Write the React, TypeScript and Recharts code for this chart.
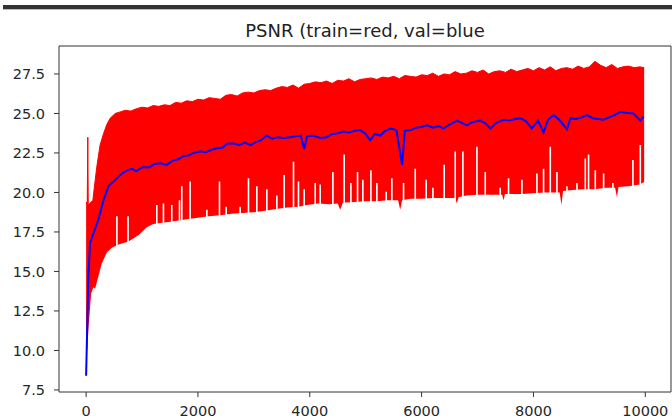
import { ComposedChart, Area, Line, XAxis, YAxis } from 'recharts';

// train PSNR, upper edge of the noisy red band [step, psnr]
const trainUpper = [
  [0, 19.4], [20, 19.3], [30, 23.5], [38, 19.2], [120, 19.5], [190, 21.6], [250, 23.0],
  [310, 23.7], [370, 24.3], [430, 24.7], [520, 25.0], [610, 25.1], [700, 25.2], [800, 25.15],
  [900, 25.3], [1000, 25.4], [1100, 25.35], [1200, 25.5], [1300, 25.45], [1400, 25.55],
  [1500, 25.5], [1600, 25.7], [1700, 25.65], [1800, 25.8], [1900, 25.75], [2000, 25.9],
  [2100, 25.85], [2200, 26.0], [2300, 25.95], [2400, 25.9], [2500, 26.15], [2600, 26.2],
  [2700, 26.1], [2800, 26.3], [2900, 26.35], [3000, 26.3], [3100, 26.45], [3200, 26.5],
  [3300, 26.45], [3400, 26.6], [3500, 26.7], [3600, 26.65], [3700, 26.8], [3800, 26.6],
  [3900, 26.85], [4000, 26.9], [4100, 27.0], [4200, 26.95], [4300, 27.05], [4400, 26.9],
  [4500, 27.1], [4600, 27.05], [4700, 27.2], [4800, 27.0], [4900, 27.15], [5000, 27.2],
  [5100, 27.25], [5200, 27.15], [5300, 27.3], [5400, 27.25], [5500, 27.35], [5600, 27.2],
  [5700, 27.4], [5800, 27.35], [5900, 27.3], [6000, 27.45], [6100, 27.4], [6200, 27.55],
  [6300, 27.35], [6400, 27.5], [6500, 27.45], [6600, 27.65], [6700, 27.5], [6800, 27.55],
  [6900, 27.7], [7000, 27.6], [7100, 27.75], [7200, 27.5], [7300, 27.65], [7400, 27.7],
  [7500, 27.6], [7600, 27.8], [7700, 27.65], [7800, 27.75], [7900, 27.85], [8000, 27.7],
  [8100, 27.9], [8200, 27.75], [8300, 27.95], [8400, 27.7], [8500, 27.85], [8600, 27.9],
  [8700, 27.8], [8800, 28.0], [8900, 27.85], [9000, 27.95], [9100, 28.3], [9200, 28.05],
  [9300, 27.9], [9400, 28.1], [9500, 27.85], [9600, 27.95], [9700, 28.0], [9800, 27.9],
  [9900, 27.95], [9980, 27.9],
];

// lower edge of the red band
const trainLower = [
  [-10, 10.0], [20, 10.0], [40, 11.3], [90, 13.6], [130, 14.0], [160, 13.9], [220, 14.7],
  [280, 15.5], [370, 16.2], [460, 16.5], [580, 16.7], [760, 16.9], [940, 17.3], [1085, 17.8],
  [1200, 18.0], [1400, 18.1], [1600, 18.2], [1800, 18.3], [2000, 18.4], [2200, 18.5],
  [2400, 18.55], [2600, 18.65], [2800, 18.7], [3000, 18.75], [3200, 18.85], [3400, 18.95],
  [3600, 19.05], [3800, 19.1], [3950, 19.2], [4150, 19.3], [4350, 19.25], [4500, 19.3],
  [4544, 18.9], [4590, 19.35], [4800, 19.4], [5000, 19.45], [5200, 19.45], [5400, 19.5],
  [5580, 19.5], [5617, 18.9], [5650, 19.5], [5800, 19.6], [6000, 19.6], [6200, 19.65],
  [6400, 19.65], [6600, 19.65], [6631, 19.3], [6660, 19.7], [6800, 19.8], [7000, 19.85],
  [7200, 19.85], [7440, 19.85], [7466, 19.5], [7490, 19.9], [7600, 19.9], [7800, 19.9],
  [8000, 19.95], [8200, 20.0], [8470, 20.0], [8500, 19.2], [8530, 20.1], [8700, 20.15],
  [8900, 20.2], [9100, 20.2], [9300, 20.3], [9460, 20.3], [9494, 19.7], [9520, 20.35],
  [9700, 20.4], [9900, 20.5], [9995, 20.7],
];

// thin gaps where the train curve did not dip down
const trainGaps = [
  [550, 18.5], [750, 18.5], [1264, 19.2], [1383, 19.3], [1532, 19.2], [1670, 19.5],
  [1711, 20.4], [1860, 20.7], [2159, 18.9], [2385, 20.7], [2505, 19.1], [2755, 19.1],
  [2904, 20.9], [3053, 20.4], [3232, 20.2], [3411, 19.8], [3542, 21.1], [3709, 21.95],
  [3798, 20.7], [3900, 20.2], [4097, 20.6], [4186, 20.5], [4413, 21.3], [4615, 22.4],
  [4735, 20.6], [4854, 21.3], [4949, 20.8], [5093, 21.4], [5200, 20.6], [5367, 20.05],
  [5468, 20.9], [5677, 20.6], [5886, 21.5], [6082, 20.8], [6202, 20.3], [6404, 21.75],
  [6601, 22.6], [6738, 22.6], [6989, 22.9], [7138, 21.3], [7406, 20.3], [7555, 20.9],
  [7794, 20.8], [8062, 21.2], [8181, 21.5], [8301, 22.9], [8420, 21.3], [8599, 20.4],
  [8778, 20.6], [8927, 22.15], [8986, 22.4], [9106, 21.4], [9255, 21.2], [9421, 20.6],
  [9779, 22.05], [9911, 23.0],
];

// validation PSNR
const valPsnr = [
  [0, 8.4], [40, 14.7], [70, 16.8], [130, 17.4], [220, 18.3], [310, 19.5], [400, 20.4],
  [520, 20.8], [640, 21.2], [730, 21.4], [820, 21.5], [900, 21.35], [1000, 21.6], [1140, 21.6],
  [1220, 21.8], [1330, 21.85], [1440, 21.75], [1540, 22.0], [1640, 22.1], [1740, 22.3],
  [1840, 22.35], [1920, 22.5], [2040, 22.6], [2140, 22.55], [2240, 22.7], [2340, 22.8],
  [2440, 22.85], [2520, 23.1], [2640, 23.1], [2740, 23.0], [2840, 23.15], [2940, 23.0],
  [3040, 23.2], [3120, 23.3], [3230, 23.6], [3330, 23.4], [3430, 23.5], [3530, 23.45],
  [3640, 23.5], [3740, 23.55], [3840, 23.6], [3900, 22.75], [3950, 23.55], [4050, 23.6],
  [4190, 23.45], [4300, 23.5], [4400, 23.7], [4500, 23.75], [4600, 23.85], [4700, 23.8],
  [4800, 23.9], [4900, 23.95], [5000, 23.7], [5080, 23.3], [5160, 23.7], [5260, 23.6],
  [5350, 23.9], [5440, 24.05], [5550, 23.95], [5650, 21.75], [5700, 23.9], [5800, 23.95],
  [5900, 24.1], [6000, 24.15], [6100, 24.25], [6200, 24.1], [6300, 24.2], [6390, 24.05],
  [6500, 24.3], [6630, 24.55], [6720, 24.4], [6810, 24.25], [6900, 24.45], [7050, 24.55],
  [7150, 24.35], [7230, 24.05], [7330, 24.4], [7470, 24.6], [7570, 24.55], [7670, 24.65],
  [7770, 24.7], [7870, 24.5], [7970, 24.05], [8080, 24.55], [8180, 23.8], [8260, 24.6],
  [8360, 24.9], [8460, 24.6], [8600, 24.0], [8660, 24.7], [8760, 24.65], [8860, 24.75],
  [8960, 24.9], [9060, 24.7], [9160, 24.65], [9250, 24.6], [9350, 24.75], [9450, 24.9],
  [9550, 25.1], [9650, 25.05], [9790, 25.0], [9910, 24.55], [9970, 24.8],
];

const xTicks = [0, 2000, 4000, 6000, 8000, 10000];
const yTicks = [7.5, 10, 12.5, 15, 17.5, 20, 22.5, 25, 27.5];

const X_DOMAIN = [-485, 10460];
const Y_DOMAIN = [7.37, 29.27];
const RED_FLOOR = 7.6;
const WHITE_FLOOR = 7.45;

const rows = (pairs: number[][]) => pairs.map(([step, v]) => ({ step, v }));

// each gap becomes its own vertical segment, split by a null point
const gapRows = trainGaps.flatMap(([step, top]) => [
  { step, v: RED_FLOOR },
  { step, v: top },
  { step, v: null },
]);

const tickStyle = { fill: '#262626', fontSize: 14.5 };

export default function App() {
  return (
    <div style={{ position: 'absolute', left: 0, top: 0, width: 672, height: 419, background: '#fff', fontFamily: '"DejaVu Sans", sans-serif' }}>
      <div style={{ position: 'absolute', left: 3, top: 5, width: 669, height: 4, background: '#333' }} />
      <div style={{ position: 'absolute', left: 3, top: 9, width: 669, height: 1, background: '#bbb' }} />
      <div style={{ position: 'absolute', left: 59, width: 612, top: 21.5, textAlign: 'center', fontSize: 18, lineHeight: '18px', color: '#222' }}>
        PSNR (train=red, val=blue
      </div>
      <ComposedChart width={672} height={419} margin={{ top: 45, right: 0, bottom: 0, left: 0 }}>
        <XAxis
          dataKey="step"
          type="number"
          domain={X_DOMAIN}
          ticks={xTicks}
          height={27}
          tickSize={5}
          tickMargin={9}
          stroke="#333"
          tick={tickStyle}
          allowDataOverflow
        />
        <XAxis xAxisId="top" orientation="top" type="number" domain={X_DOMAIN} height={1} tick={false} tickLine={false} stroke="#333" />
        <YAxis
          type="number"
          domain={Y_DOMAIN}
          ticks={yTicks}
          tickFormatter={(v: number) => v.toFixed(1)}
          width={59}
          tickSize={5}
          tickMargin={9}
          stroke="#333"
          tick={tickStyle}
          allowDataOverflow
        />
        <YAxis yAxisId="right" orientation="right" type="number" domain={Y_DOMAIN} width={1} tick={false} tickLine={false} stroke="#333" />
        <Area data={rows(trainUpper)} dataKey="v" type="linear" baseValue={RED_FLOOR} fill="#ff0000" fillOpacity={1} stroke="#ff0000" strokeWidth={1} isAnimationActive={false} />
        <Area data={rows(trainLower)} dataKey="v" type="linear" baseValue={WHITE_FLOOR} fill="#ffffff" fillOpacity={1} stroke="none" isAnimationActive={false} />
        <Line data={gapRows} dataKey="v" type="linear" stroke="#ffffff" strokeWidth={1.6} dot={false} connectNulls={false} isAnimationActive={false} />
        <Line data={rows(valPsnr)} dataKey="v" type="linear" stroke="#0000ff" strokeWidth={2} dot={false} isAnimationActive={false} />
      </ComposedChart>
    </div>
  );
}
